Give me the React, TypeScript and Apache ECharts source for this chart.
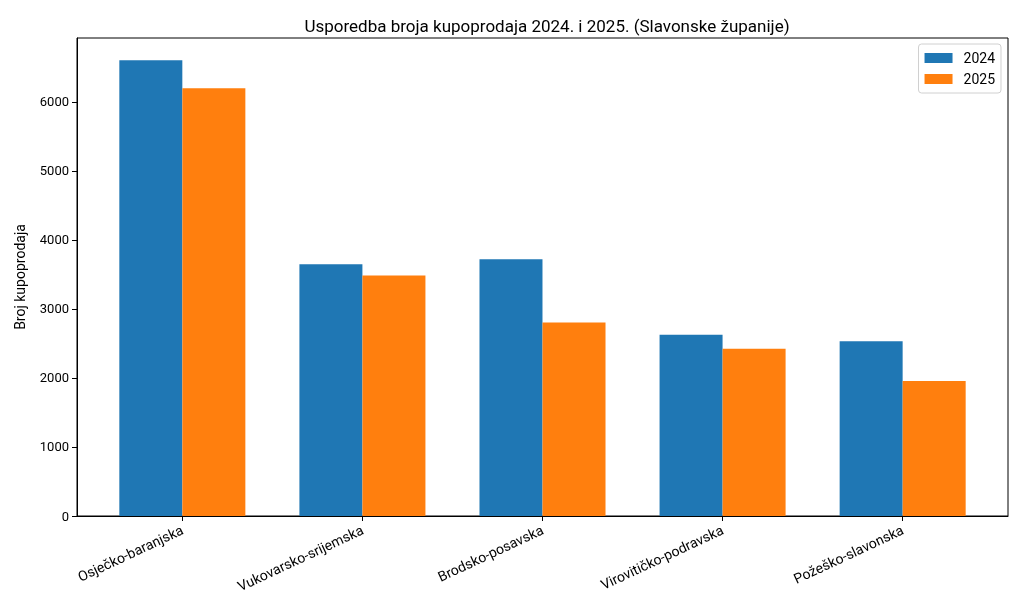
import React, { useEffect, useRef } from "react";
import * as echarts from "echarts";

const categories = [
  "Osječko-baranjska",
  "Vukovarsko-srijemska",
  "Brodsko-posavska",
  "Virovitičko-podravska",
  "Požeško-slavonska",
];
const values2024 = [6604, 3650, 3722, 2626, 2534];
const values2025 = [6199, 3485, 2805, 2423, 1957];
const seriesNames = ["2024", "2025"];
const yTicks = [0, 1000, 2000, 3000, 4000, 5000, 6000];

const BAR_W = 0.35;

export default function App() {
  const ref = useRef<HTMLDivElement>(null);
  useEffect(() => {
    if (!ref.current) return;
    const chart = echarts.init(ref.current, undefined, { renderer: "svg" });
    const font = "Roboto, 'DejaVu Sans', sans-serif";
    const idx = categories.map((_, i) => i);
    chart.setOption({
      animation: false,
      textStyle: { fontFamily: font },
      title: {
        text: "Usporedba broja kupoprodaja 2024. i 2025. (Slavonske županije)",
        left: 542,
        textAlign: "center",
        top: 12,
        textStyle: { fontSize: 17, fontWeight: "normal", color: "#000", fontFamily: font },
      },
      legend: {
        data: seriesNames,
        right: 23,
        top: 44,
        orient: "vertical",
        icon: "rect",
        itemWidth: 28,
        itemHeight: 10,
        itemGap: 7,
        padding: [7, 6, 7, 6],
        borderColor: "#d0d0d0",
        borderWidth: 1,
        borderRadius: 3,
        backgroundColor: "#fff",
        textStyle: { fontSize: 14, color: "#000", fontFamily: font, padding: [0, 0, 0, 6] },
      },
      grid: {
        left: 77,
        right: 16,
        top: 38,
        bottom: 98,
        show: true,
        borderColor: "#000",
        borderWidth: 1,
        backgroundColor: "transparent",
      },
      xAxis: {
        type: "value",
        min: -0.585,
        max: categories.length - 1 + 0.585,
        splitLine: { show: false },
        axisLine: { show: true, onZero: false, lineStyle: { color: "#000" } },
        axisTick: { show: true, customValues: idx, length: 5, lineStyle: { color: "#000" } },
        axisLabel: {
          customValues: idx,
          rotate: 25,
          fontSize: 14,
          color: "#000",
          margin: 13,
          formatter: (v: number) => categories[Math.round(v)] ?? "",
        },
      },
      yAxis: {
        type: "value",
        min: 0,
        max: 6927,
        name: "Broj kupoprodaja",
        nameLocation: "middle",
        nameGap: 50,
        nameTextStyle: { fontSize: 14, color: "#000", fontFamily: font },
        splitLine: { show: false },
        axisLine: { show: true, onZero: false, lineStyle: { color: "#000" } },
        axisTick: { show: true, customValues: yTicks, length: 5, lineStyle: { color: "#000" } },
        axisLabel: {
          customValues: yTicks,
          fontSize: 13,
          color: "#000",
          formatter: (v: number) => String(v),
        },
      },
      series: [
        {
          name: seriesNames[0],
          type: "bar",
          barWidth: 63,
          barGap: "-100%",
          itemStyle: { color: "#1f77b4" },
          data: values2024.map((v, i) => [i - BAR_W / 2, v]),
        },
        {
          name: seriesNames[1],
          type: "bar",
          barWidth: 63,
          barGap: "-100%",
          itemStyle: { color: "#ff7f0e" },
          data: values2025.map((v, i) => [i + BAR_W / 2, v]),
        },
      ],
    });
    return () => chart.dispose();
  }, []);
  return (
    <div
      ref={ref}
      style={{ position: "fixed", left: 0, top: 0, width: 1024, height: 614 }}
    />
  );
}
